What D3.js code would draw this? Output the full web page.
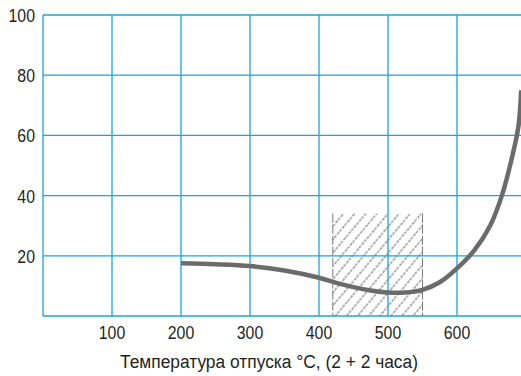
<!DOCTYPE html>
<html>
<head>
<meta charset="utf-8">
<script src="https://cdn.jsdelivr.net/npm/d3@7"></script>
<style>
  body { margin: 0; background: #fff; }
  text { font-family: "Liberation Sans Narrow", "Arial Narrow", "Liberation Sans", sans-serif; fill: #231f20; }
</style>
</head>
<body>
<script>
const w = 521; // width
const h = 376; // height

// data
const temps = [200, 250, 300, 350, 400, 425, 450, 475, 500, 525, 550, 575, 600, 625, 648, 665, 679, 689, 693];
const values = [17.5, 17.2, 16.6, 15.1, 12.7, 11.0, 9.6, 8.5, 7.8, 7.8, 8.7, 11.2, 15.8, 21.8, 30, 40, 52, 63, 75];
const xTicks = [100, 200, 300, 400, 500, 600];
const yTicks = [20, 40, 60, 80, 100];
const hatchRange = [420, 550]; // tempering zone
const hatchTop = 34;
const xLabel = "Температура отпуска °С, (2 + 2 часа)";

const gridColor = "#1ba3df";

let svg = d3.select("body")
    .append("svg")
    .attr("width", w)
    .attr("height", h);

let x = d3.scaleLinear().domain([0, 700]).range([43, 526]);
let y = d3.scaleLinear().domain([0, 100]).range([316, 15]);

// hatch pattern
let defs = svg.append("defs");
let pat = defs.append("pattern")
    .attr("id", "hatch")
    .attr("patternUnits", "userSpaceOnUse")
    .attr("width", 8.5)
    .attr("height", 8)
    .attr("patternTransform", "rotate(40)");
pat.append("line")
    .attr("x1", 1).attr("y1", 0)
    .attr("x2", 1).attr("y2", 8)
    .attr("stroke", "#8c8c8c")
    .attr("stroke-width", 1.3)
    .attr("stroke-dasharray", "3,1.2");

svg.append("rect")
    .attr("x", x(hatchRange[0]))
    .attr("y", y(hatchTop))
    .attr("width", x(hatchRange[1]) - x(hatchRange[0]))
    .attr("height", y(0) - y(hatchTop))
    .attr("fill", "url(#hatch)");

svg.selectAll(".hatch-edge")
    .data(hatchRange)
    .enter()
    .append("line")
    .attr("class", "hatch-edge")
    .attr("x1", d => x(d)).attr("x2", d => x(d))
    .attr("y1", y(hatchTop)).attr("y2", y(0))
    .attr("stroke", "#7a7a7a")
    .attr("stroke-width", 1)
    .attr("stroke-dasharray", "9,2");

// grid
svg.selectAll(".vgrid")
    .data([0].concat(xTicks))
    .enter()
    .append("line")
    .attr("x1", d => x(d)).attr("x2", d => x(d))
    .attr("y1", y(100)).attr("y2", y(0))
    .attr("stroke", gridColor)
    .attr("stroke-width", 1.3);

svg.selectAll(".hgrid")
    .data([0].concat(yTicks))
    .enter()
    .append("line")
    .attr("x1", x(0)).attr("x2", w)
    .attr("y1", d => y(d)).attr("y2", d => y(d))
    .attr("stroke", gridColor)
    .attr("stroke-width", 1.3);

// narrow the digits a bit, like the condensed font in the original
function narrow(sel) {
    sel.each(function () {
        let len = this.getComputedTextLength();
        d3.select(this)
            .attr("textLength", len * 0.88)
            .attr("lengthAdjust", "spacingAndGlyphs");
    });
}

// tick labels
svg.selectAll(".ylab")
    .data(yTicks)
    .enter()
    .append("text")
    .attr("x", 35)
    .attr("y", d => y(d) + 7)
    .attr("text-anchor", "end")
    .attr("font-size", 18)
    .text(d => d)
    .call(narrow);

svg.selectAll(".xlab")
    .data(xTicks)
    .enter()
    .append("text")
    .attr("x", d => x(d))
    .attr("y", 339)
    .attr("text-anchor", "middle")
    .attr("font-size", 18)
    .text(d => d)
    .call(narrow);

svg.append("text")
    .attr("x", 269)
    .attr("y", 368)
    .attr("text-anchor", "middle")
    .attr("font-size", 18)
    .attr("textLength", 298)
    .attr("lengthAdjust", "spacingAndGlyphs")
    .text(xLabel);

// curve
let line = d3.line()
    .x((d, i) => x(temps[i]))
    .y(d => y(d))
    .curve(d3.curveCatmullRom.alpha(0.5));

svg.append("path")
    .datum(values)
    .attr("d", line)
    .attr("fill", "none")
    .attr("stroke", "#6b6b6b")
    .attr("stroke-width", 4.5);
</script>
</body>
</html>
